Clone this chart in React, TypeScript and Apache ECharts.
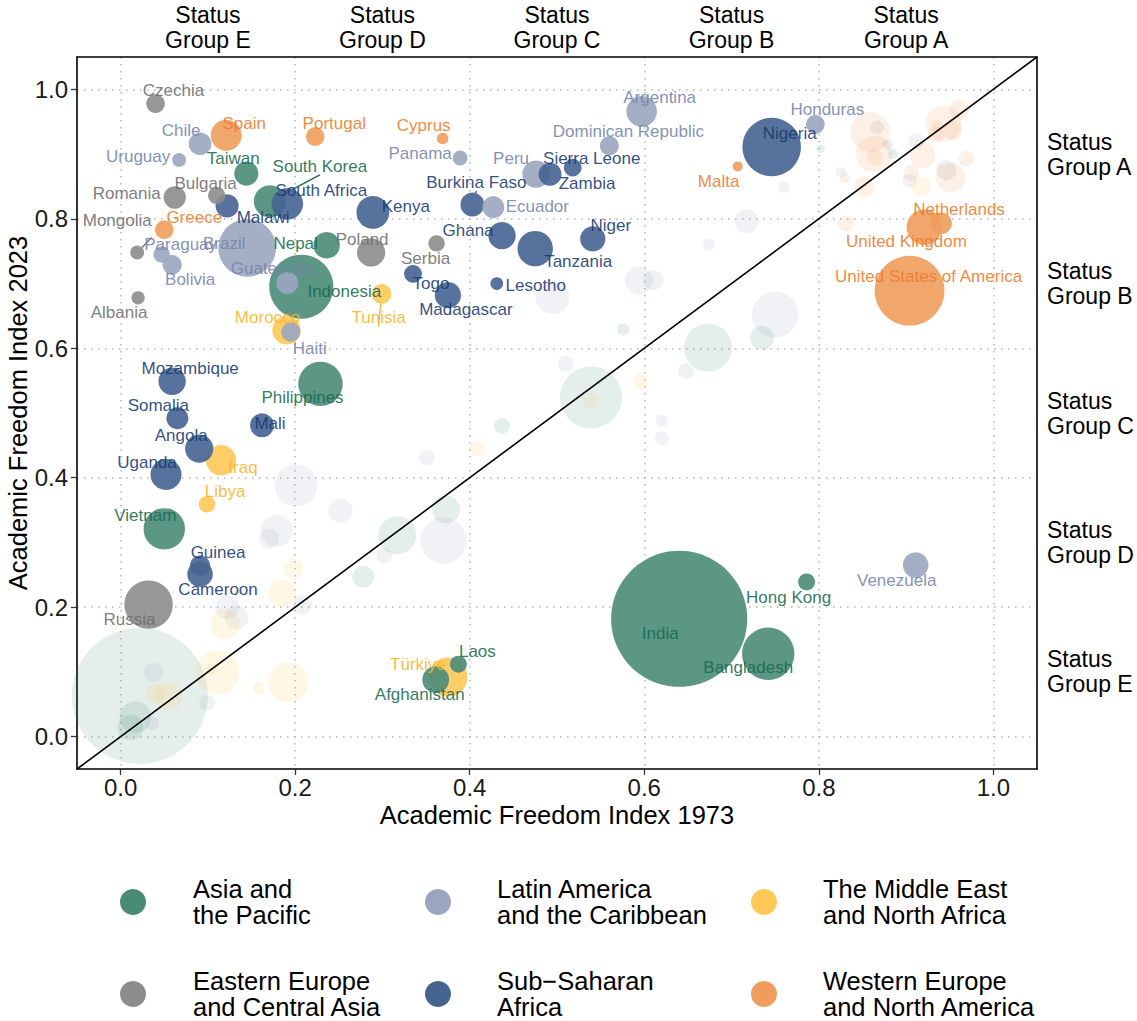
import React, { useEffect, useRef } from "react";
import * as echarts from "echarts";

// [country, Academic Freedom Index 1973, Academic Freedom Index 2023, population (millions)]
type Country = [string, number, number, number];
// unlabelled countries: [AFI 1973, AFI 2023, population (millions)]
type Other = [number, number, number];

const xTicks = [0, 0.2, 0.4, 0.6, 0.8, 1.0];
const yTicks = [0, 0.2, 0.4, 0.6, 0.8, 1.0];
const statusTicks = [0.1, 0.3, 0.5, 0.7, 0.9];
const statusGroups = ["E", "D", "C", "B", "A"];

const regionNames = [
  "Asia and\nthe Pacific",
  "Latin America\nand the Caribbean",
  "The Middle East\nand North Africa",
  "Eastern Europe\nand Central Asia",
  "Sub\u2212Saharan\nAfrica",
  "Western Europe\nand North America",
];

const asiaPacific: Country[] = [
  ["India", 0.640, 0.182, 1428],
  ["Indonesia", 0.207, 0.695, 277],
  ["Bangladesh", 0.742, 0.128, 173],
  ["Philippines", 0.229, 0.545, 117],
  ["Vietnam", 0.050, 0.321, 99],
  ["South Korea", 0.171, 0.827, 52],
  ["Afghanistan", 0.361, 0.088, 32],
  ["Nepal", 0.236, 0.759, 31],
  ["Taiwan", 0.144, 0.870, 24],
  ["Laos", 0.387, 0.112, 7.6],
  ["Hong Kong", 0.786, 0.239, 7.5],
];

const latinAmerica: Country[] = [
  ["Brazil", 0.145, 0.755, 216],
  ["Argentina", 0.597, 0.966, 46],
  ["Peru", 0.476, 0.869, 34],
  ["Venezuela", 0.911, 0.265, 28],
  ["Chile", 0.091, 0.916, 19.6],
  ["Guatemala", 0.191, 0.701, 18],
  ["Ecuador", 0.427, 0.818, 18],
  ["Bolivia", 0.059, 0.729, 12],
  ["Haiti", 0.195, 0.625, 11.7],
  ["Dominican Republic", 0.560, 0.913, 11.3],
  ["Honduras", 0.796, 0.946, 10.6],
  ["Paraguay", 0.047, 0.745, 6.9],
  ["Panama", 0.389, 0.894, 4.5],
  ["Uruguay", 0.067, 0.891, 3.4],
];

const middleEast: Country[] = [
  ["Türkiye", 0.375, 0.092, 85],
  ["Iraq", 0.115, 0.427, 45],
  ["Morocco", 0.190, 0.628, 37.8],
  ["Tunisia", 0.299, 0.684, 12.5],
  ["Libya", 0.099, 0.359, 6.9],
];

const easternEurope: Country[] = [
  ["Russia", 0.032, 0.204, 144],
  ["Poland", 0.287, 0.748, 37],
  ["Romania", 0.062, 0.833, 19],
  ["Czechia", 0.040, 0.978, 10.5],
  ["Bulgaria", 0.110, 0.836, 8],
  ["Serbia", 0.362, 0.762, 6.7],
  ["Mongolia", 0.019, 0.748, 3.4],
  ["Albania", 0.020, 0.678, 2.8],
];

const subSaharanAfrica: Country[] = [
  ["Nigeria", 0.746, 0.911, 224],
  ["Tanzania", 0.475, 0.754, 67],
  ["South Africa", 0.191, 0.823, 50],
  ["Kenya", 0.289, 0.810, 55],
  ["Uganda", 0.052, 0.405, 48],
  ["Angola", 0.090, 0.445, 37],
  ["Ghana", 0.437, 0.774, 34],
  ["Mozambique", 0.059, 0.549, 34],
  ["Madagascar", 0.375, 0.682, 30],
  ["Cameroon", 0.091, 0.251, 28],
  ["Niger", 0.541, 0.769, 27],
  ["Mali", 0.162, 0.481, 23],
  ["Burkina Faso", 0.403, 0.822, 23],
  ["Malawi", 0.122, 0.820, 20.9],
  ["Zambia", 0.492, 0.869, 20.6],
  ["Somalia", 0.065, 0.492, 18],
  ["Guinea", 0.091, 0.264, 14],
  ["Togo", 0.335, 0.715, 9],
  ["Sierra Leone", 0.518, 0.879, 8.8],
  ["Lesotho", 0.431, 0.700, 2.3],
];

const westernEurope: Country[] = [
  ["United States of America", 0.904, 0.689, 335],
  ["United Kingdom", 0.921, 0.787, 68],
  ["Spain", 0.121, 0.929, 48],
  ["Netherlands", 0.940, 0.793, 17.6],
  ["Greece", 0.050, 0.783, 10.4],
  ["Portugal", 0.223, 0.927, 10.3],
  ["Cyprus", 0.369, 0.924, 1.3],
  ["Malta", 0.707, 0.881, 0.5],
];

const asiaPacificOther: Other[] = [
  [0.022, 0.063, 1425], [0.017, 0.030, 51], [0.011, 0.014, 29], [0.576, 0.629, 1.7],
  [0.539, 0.524, 256], [0.437, 0.480, 6], [0.317, 0.311, 80], [0.373, 0.351, 36],
  [0.278, 0.247, 18], [0.673, 0.601, 141], [0.735, 0.616, 23], [0.802, 0.908, 0.1],
  [0.885, 0.900, 0.5],
];

const latinAmericaOther: Other[] = [
  [0.495, 0.679, 60], [0.594, 0.705, 36], [0.610, 0.705, 13], [0.510, 0.576, 6],
  [0.620, 0.488, 1.7], [0.620, 0.461, 3.5], [0.648, 0.565, 6], [0.750, 0.652, 128],
  [0.351, 0.431, 6], [0.370, 0.303, 130], [0.201, 0.388, 103], [0.252, 0.349, 23],
  [0.179, 0.318, 51], [0.170, 0.306, 13], [0.302, 0.279, 6], [0.208, 0.204, 13],
  [0.122, 0.200, 23], [0.133, 0.184, 23], [0.099, 0.052, 6], [0.038, 0.099, 13],
  [0.036, 0.021, 3.5], [0.717, 0.796, 23], [0.674, 0.760, 1.7], [0.760, 0.849, 1.7],
  [0.825, 0.872, 0.5], [0.912, 0.920, 6], [0.904, 0.859, 3.5],
];

const middleEastOther: Other[] = [
  [0.539, 0.519, 6], [0.596, 0.549, 6], [0.409, 0.445, 6], [0.198, 0.259, 13],
  [0.185, 0.221, 36], [0.120, 0.174, 43], [0.192, 0.084, 91], [0.158, 0.075, 1.7],
  [0.111, 0.099, 115], [0.105, 0.105, 1.7], [0.055, 0.063, 36], [0.040, 0.067, 13],
  [0.917, 0.850, 13],
];

const easternEuropeOther: Other[] = [
  [0.867, 0.941, 3.5], [0.879, 0.915, 0.5], [0.946, 0.875, 13],
];

const westernEuropeOther: Other[] = [
  [0.859, 0.934, 91], [0.863, 0.900, 70], [0.864, 0.895, 6], [0.919, 0.898, 29],
  [0.943, 0.947, 70], [0.961, 0.969, 13], [0.936, 0.943, 1.7], [0.953, 0.937, 13],
  [0.934, 0.930, 6], [0.969, 0.893, 6], [0.951, 0.864, 43], [0.906, 0.871, 6],
  [0.852, 0.850, 13], [0.830, 0.864, 0.5], [0.831, 0.793, 6],
];

// ---------- styling / layout (not data) ----------
const FONT = "'Liberation Sans', Arial, Helvetica, sans-serif";

const REGION_STYLE = [
  { fill: "#4a8b78", text: "#176b4e" },
  { fill: "#9aa6bf", text: "#7684a9" },
  { fill: "#ffc857", text: "#f7b52a" },
  { fill: "#8c8c8c", text: "#6e6e6e" },
  { fill: "#456492", text: "#173a72" },
  { fill: "#f09c5c", text: "#ee7b2c" },
];

const LABEL_OFFSETS: Record<string, [number, number]> = {
  Czechia: [18, -13], Chile: [-19, -13], Spain: [18, -12], Portugal: [19, -13],
  Uruguay: [-41, -3], Taiwan: [-13, -15], Bulgaria: [-11, -12], Romania: [-48, -4],
  "South Korea": [50, -35], "South Africa": [34, -13], Malawi: [36, 12], Kenya: [33, -6],
  Greece: [30, -12], Mongolia: [-20, -32], Paraguay: [19, -10], Bolivia: [18, 15],
  Brazil: [-23, -4], Guatemala: [-15, -14], Nepal: [-31, -2], Poland: [-9, -13],
  Indonesia: [43, 5], Tunisia: [-3, 24], Albania: [-19, 15], Argentina: [18, -14],
  Cyprus: [-19, -13], "Dominican Republic": [19, -14], Panama: [-40, -4], Peru: [-25, -16],
  "Sierra Leone": [19, -9], Zambia: [37, 9], "Burkina Faso": [4, -22], Ecuador: [44, -1],
  Ghana: [-34, -5], Tanzania: [43, 13], Niger: [18, -13], Serbia: [-11, 15],
  Togo: [18, 10], Lesotho: [39, 2], Madagascar: [18, 14], Honduras: [12, -15],
  Nigeria: [18, -13], Malta: [-19, 15], Netherlands: [18, -14], "United Kingdom": [-18, 14],
  "United States of America": [19, -14], Morocco: [-19, -13], Haiti: [19, 16],
  Mozambique: [18, -13], Philippines: [-18, 14], Somalia: [-19, -13], Mali: [8, -2],
  Angola: [-18, -13], Iraq: [22, 7], Uganda: [-19, -12], Libya: [18, -13],
  Vietnam: [-19, -13], Guinea: [18, -13], Cameroon: [18, 15], Russia: [-19, 15],
  Laos: [19, -13], "Türkiye": [-30, -13], Afghanistan: [-16, 15], India: [-19, 15],
  Bangladesh: [-20, 14], "Hong Kong": [-18, 16], Venezuela: [-19, 15],
};
const CONNECTED = new Set(["South Korea", "Mongolia", "Tunisia", "Burkina Faso"]);

const bubbleSize = (v: number[]) => 7.6 + 3.4 * Math.sqrt(v[2]);

export default function App() {
  const ref = useRef<HTMLDivElement>(null);

  useEffect(() => {
    if (!ref.current) return;
    const chart = echarts.init(ref.current, undefined, { renderer: "svg" });

    const labelled = [asiaPacific, latinAmerica, middleEast, easternEurope, subSaharanAfrica, westernEurope];
    const others = [asiaPacificOther, latinAmericaOther, middleEastOther, easternEuropeOther, [] as Other[], westernEuropeOther];

    const fadedSeries = others.map((arr, ri) => ({
      type: "scatter",
      name: regionNames[ri] + " other",
      silent: true,
      symbol: "circle",
      symbolSize: bubbleSize,
      itemStyle: { color: REGION_STYLE[ri].fill, opacity: 0.15 },
      emphasis: { disabled: true },
      data: arr.map((d) => [d[0], d[1], d[2]]),
      z: 2,
    }));

    const items: any[] = [];
    labelled.forEach((arr, ri) => {
      arr.forEach((c) => {
        items.push({
          name: c[0],
          value: [c[1], c[2], c[3]],
          itemStyle: { color: REGION_STYLE[ri].fill, opacity: 0.9 },
          label: { color: REGION_STYLE[ri].text, offset: LABEL_OFFSETS[c[0]] || [0, 0] },
          labelLine: {
            show: CONNECTED.has(c[0]),
            lineStyle: { color: REGION_STYLE[ri].text, width: 1.3 },
          },
        });
      });
    });
    items.sort((a, b) => b.value[2] - a.value[2]);

    const fmtTick = (v: number) => v.toFixed(1);
    const fmtStatus = (v: number) => {
      const i = Math.round((v - 0.1) / 0.2);
      return "Status\nGroup " + statusGroups[i];
    };

    const axisLineStyle = { color: "#000", width: 1.6 };

    const graphic: any[] = [];
    const legendCols = [133, 438, 764];
    const legendTextX = [193, 497, 823];
    const legendRows = [902, 994];
    regionNames.forEach((name, i) => {
      const col = i % 3;
      const row = Math.floor(i / 3);
      graphic.push({
        type: "circle",
        shape: { cx: legendCols[col], cy: legendRows[row], r: 13 },
        style: { fill: REGION_STYLE[i].fill },
      });
      graphic.push({
        type: "text",
        x: legendTextX[col],
        y: legendRows[row],
        style: {
          text: name,
          fontSize: 25.5,
          lineHeight: 26,
          fontFamily: FONT,
          fill: "#000",
          verticalAlign: "middle",
          align: "left",
        },
      });
    });

    chart.setOption({
      animation: false,
      textStyle: { fontFamily: FONT },
      grid: { left: 77, right: 100, top: 57, bottom: 252, containLabel: false, outerBoundsMode: "none" },
      xAxis: [
        {
          type: "value",
          min: -0.05,
          max: 1.05,
          position: "bottom",
          name: "Academic Freedom Index 1973",
          nameLocation: "middle",
          nameGap: 33,
          nameMoveOverlap: false,
          nameTextStyle: { fontSize: 25.5, color: "#000", fontFamily: FONT },
          axisLine: { show: true, onZero: false, lineStyle: axisLineStyle },
          axisTick: { show: true, length: 6, customValues: xTicks, lineStyle: { color: "#333", width: 1.3 } },
          axisLabel: { customValues: xTicks, formatter: fmtTick, fontSize: 24, color: "#1a1a1a", margin: 6, fontFamily: FONT },
          splitLine: { show: true, lineStyle: { color: "#b3b3b3", width: 1.5, type: [1.5, 5.5] } },
        },
        {
          type: "value",
          min: -0.05,
          max: 1.05,
          position: "top",
          axisLine: { show: true, onZero: false, lineStyle: axisLineStyle },
          axisTick: { show: false },
          axisLabel: { customValues: statusTicks, formatter: fmtStatus, fontSize: 23, lineHeight: 25, color: "#000", margin: 5, fontFamily: FONT },
          splitLine: { show: false },
        },
      ],
      yAxis: [
        {
          type: "value",
          min: -0.05,
          max: 1.05,
          position: "left",
          name: "Academic Freedom Index 2023",
          nameLocation: "middle",
          nameGap: 46,
          nameMoveOverlap: false,
          nameTextStyle: { fontSize: 25.5, color: "#000", fontFamily: FONT },
          axisLine: { show: true, onZero: false, lineStyle: axisLineStyle },
          axisTick: { show: true, length: 6, customValues: yTicks, lineStyle: { color: "#333", width: 1.3 } },
          axisLabel: { customValues: yTicks, formatter: fmtTick, fontSize: 24, color: "#1a1a1a", margin: 9, fontFamily: FONT },
          splitLine: { show: true, lineStyle: { color: "#b3b3b3", width: 1.5, type: [1.5, 5.5] } },
        },
        {
          type: "value",
          min: -0.05,
          max: 1.05,
          position: "right",
          axisLine: { show: true, onZero: false, lineStyle: axisLineStyle },
          axisTick: { show: false },
          axisLabel: { customValues: statusTicks, formatter: fmtStatus, fontSize: 23, lineHeight: 25, color: "#000", margin: 10, align: "left", fontFamily: FONT },
          splitLine: { show: false },
        },
      ],
      series: [
        ...fadedSeries,
        {
          type: "line",
          name: "parity",
          silent: true,
          symbol: "none",
          lineStyle: { color: "#000", width: 1.6 },
          data: [[-0.05, -0.05], [1.05, 1.05]],
          z: 3,
        },
        {
          type: "scatter",
          name: "labelled",
          symbol: "circle",
          symbolSize: bubbleSize,
          emphasis: { disabled: true },
          label: {
            show: true,
            position: "inside",
            formatter: "{b}",
            fontSize: 17,
            fontFamily: FONT,
          },
          labelLine: { show: false },
          data: items,
          z: 4,
        },
      ],
      graphic,
    });

    return () => chart.dispose();
  }, []);

  return (
    <div
      ref={ref}
      style={{ position: "fixed", left: 0, top: 0, width: 1137, height: 1021, background: "#fff" }}
    />
  );
}
